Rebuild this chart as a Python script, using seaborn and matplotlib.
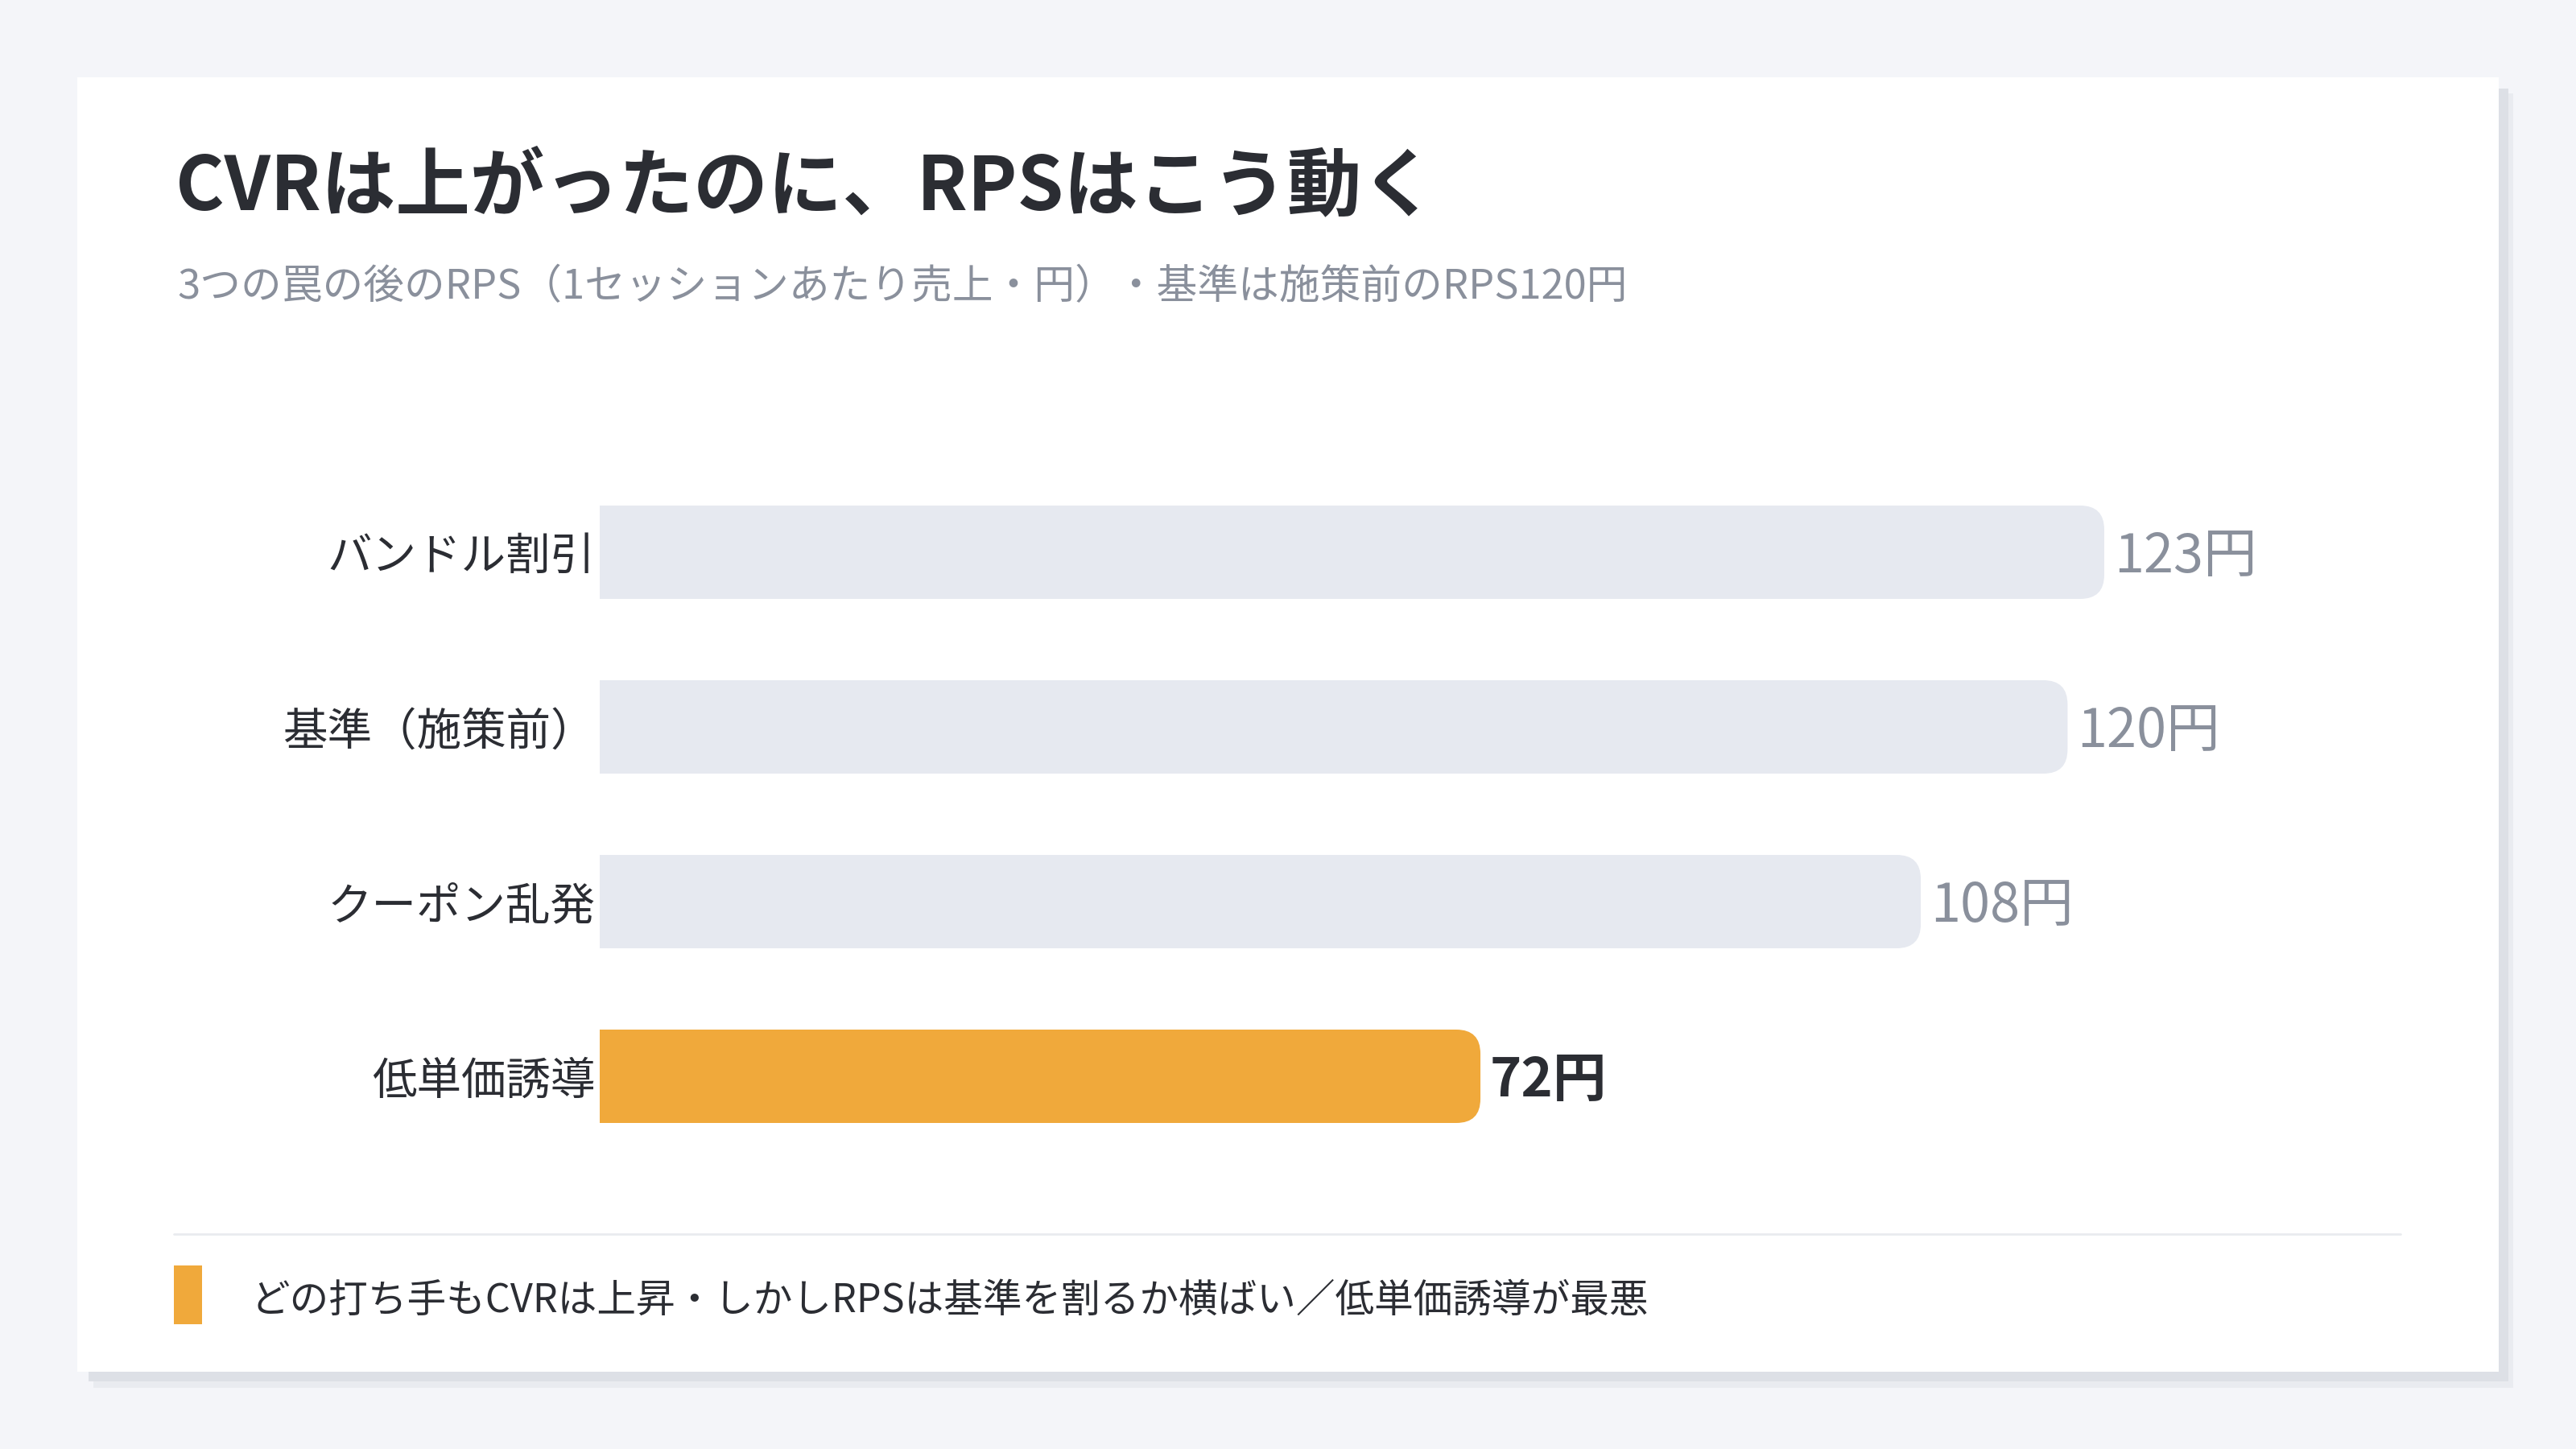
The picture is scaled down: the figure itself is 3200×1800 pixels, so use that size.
import matplotlib
matplotlib.use("Agg")
import matplotlib.pyplot as plt
from matplotlib.patches import Rectangle, FancyBboxPatch
import seaborn as sns
import pandas as pd

# ---- data ----
categories = ["バンドル割引", "基準（施策前）", "クーポン乱発", "低単価誘導"]
rps_values = [123, 120, 108, 72]
value_labels = ["123円", "120円", "108円", "72円"]
highlight = "低単価誘導"

title = "CVRは上がったのに、RPSはこう動く"
subtitle = "3つの罠の後のRPS（1セッションあたり売上・円）・基準は施策前のRPS120円"
footnote = "どの打ち手もCVRは上昇・しかしRPSは基準を割るか横ばい／低単価誘導が最悪"

# ---- style ----
BG = "#F4F5F9"
CARD = "#FFFFFF"
GRAY_BAR = "#E6E9F0"
ORANGE = "#F0A93B"
DARK = "#2B2D33"
MUTED = "#8A909C"

sns.set_theme(style="white")
plt.rcParams["font.family"] = ["Noto Sans CJK JP", "DejaVu Sans"]

W, H = 3200, 1800
DPI = 200
fig = plt.figure(figsize=(W / DPI, H / DPI), dpi=DPI, facecolor=BG)


def fx(px):
    return px / W


def fy(py):
    return 1 - py / H


def frect(x0, y0, x1, y1, color, z):
    fig.patches.append(Rectangle((fx(x0), fy(y1)), fx(x1 - x0), (y1 - y0) / H,
                                 transform=fig.transFigure, facecolor=color,
                                 edgecolor="none", zorder=z))


# card with shadow
frect(116, 116, 3122, 1724, "#E9EBF0", 0)
frect(110, 110, 3116, 1716, "#DDE0E6", 0.5)
frect(96, 96, 3104, 1704, CARD, 1)

# title / subtitle
fig.text(fx(218), fy(233), title, fontsize=33.3, fontweight="bold", color=DARK,
         ha="left", va="center", zorder=5)
fig.text(fx(220), fy(357), subtitle, fontsize=18.25, color=MUTED,
         ha="left", va="center", zorder=5)

# ---- bars ----
ax_left, ax_right = 745, 2982
row = 217
top_c = 686
ax_top = top_c - row / 2
ax_bot = top_c + row * 3.5
ax = fig.add_axes([fx(ax_left), fy(ax_bot), fx(ax_right - ax_left), (ax_bot - ax_top) / H])
ax.set_facecolor("none")
ax.set_zorder(3)

x_per_unit = (2614 - 745) / 123.0
xmax = (ax_right - ax_left) / x_per_unit

df = pd.DataFrame({"cat": categories, "rps": rps_values})
palette = {c: (ORANGE if c == highlight else GRAY_BAR) for c in categories}
bar_h = 116 / row
sns.barplot(data=df, y="cat", x="rps", hue="cat", palette=palette, order=categories,
            hue_order=categories, orient="h", width=bar_h, legend=False,
            saturation=1, ax=ax, linewidth=0)

ax.set_xlim(0, xmax)
ax.set_ylim(3.5, -0.5)

# rounded right ends
r_px = 30
rx = r_px / x_per_unit
ry = r_px / row
for p in list(ax.patches):
    x, y, w, h = p.get_x(), p.get_y(), p.get_width(), p.get_height()
    col = p.get_facecolor()
    rb = FancyBboxPatch((x, y), w, h, boxstyle=f"round,pad=0,rounding_size={rx}",
                        mutation_aspect=ry / rx, facecolor=col, edgecolor="none", zorder=2)
    ax.add_patch(rb)
    p.set_width(w - 2 * rx)
    p.set_zorder(2.5)

# value labels
dy = 6 / row
for i, (v, lab, c) in enumerate(zip(rps_values, value_labels, categories)):
    is_hl = c == highlight
    ax.text(v + 12 / x_per_unit, i + dy, lab, fontsize=24,
            fontweight="bold" if is_hl else "normal",
            color=DARK if is_hl else MUTED, ha="left", va="center", zorder=4)

ax.set_xlabel("")
ax.set_ylabel("")
ax.set_xticks([])
ax.tick_params(axis="y", length=0, pad=2, labelsize=20, labelcolor=DARK)
for s in ax.spines.values():
    s.set_visible(False)

# divider
fig.add_artist(plt.Line2D([fx(216), fx(2982)], [fy(1533), fy(1533)],
                          transform=fig.transFigure, color="#E9EBEF", lw=1.0, zorder=5))

# footer
frect(216, 1572, 251, 1645, ORANGE, 5)
fig.text(fx(312), fy(1616), footnote, fontsize=17.5, color=DARK, ha="left", va="center", zorder=5)

fig.savefig("out.png", dpi=DPI, facecolor=BG)
